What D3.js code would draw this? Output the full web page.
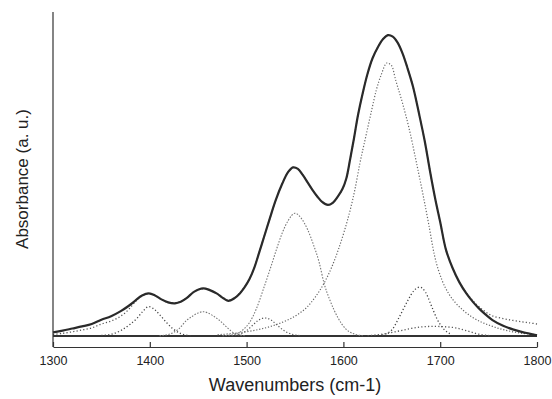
<!DOCTYPE html>
<html>
<head>
<meta charset="utf-8">
<script src="https://cdn.jsdelivr.net/npm/d3@7"></script>
<style>
  html, body { margin: 0; padding: 0; background: #fff; }
  svg { display: block; }
  text { font-family: "Liberation Sans", Arial, Helvetica, sans-serif; fill: #222; }
</style>
</head>
<body>
<svg id="chart" width="552" height="399"></svg>
<script>
// ---- Data ----
const xTicks = [1300, 1400, 1500, 1600, 1700, 1800];
const xTickLabels = ["1300", "1400", "1500", "1600", "1700", "1800"];
const xTitle = "Wavenumbers (cm-1)";
const yTitle = "Absorbance (a. u.)";

// measured spectrum (solid)
const sumWn = [1300,1310,1320,1330,1340,1350,1360,1370,1378,1385,1392,1399,1405,1412,1419,1426,1432,1438,1446,1455,1462,1469,1475,1481,1487,1493,1498,1503,1508,1512,1518,1524,1530,1537,1543,1548,1553,1558,1563,1568,1573,1578,1584,1589,1594,1599,1603,1607,1611,1615,1620,1625,1630,1636,1641,1646,1651,1656,1661,1666,1672,1678,1684,1690,1695,1700,1706,1713,1720,1727,1734,1740,1747,1754,1765,1775,1785,1792,1800];
const sumVals = [0.012,0.018,0.025,0.032,0.04,0.054,0.066,0.083,0.1,0.118,0.135,0.142,0.136,0.122,0.112,0.109,0.114,0.126,0.148,0.159,0.153,0.142,0.128,0.117,0.125,0.142,0.163,0.19,0.228,0.268,0.33,0.392,0.452,0.509,0.547,0.562,0.557,0.537,0.512,0.487,0.465,0.447,0.437,0.444,0.464,0.49,0.525,0.59,0.66,0.735,0.81,0.875,0.925,0.965,0.99,1.003,0.998,0.978,0.943,0.895,0.83,0.743,0.65,0.54,0.455,0.38,0.287,0.225,0.178,0.142,0.113,0.092,0.071,0.053,0.034,0.022,0.013,0.008,0.002];

// fitted envelope (dotted, same wavenumber grid)
const fitVals = [0.005,0.009,0.014,0.02,0.027,0.04,0.05,0.066,0.088,0.114,0.134,0.142,0.136,0.122,0.112,0.11,0.115,0.127,0.148,0.158,0.153,0.142,0.129,0.12,0.127,0.143,0.164,0.19,0.228,0.268,0.33,0.392,0.452,0.509,0.547,0.562,0.557,0.537,0.512,0.487,0.465,0.447,0.437,0.444,0.464,0.49,0.525,0.59,0.66,0.735,0.81,0.875,0.925,0.965,0.99,1.003,0.998,0.978,0.943,0.895,0.83,0.743,0.65,0.54,0.455,0.38,0.287,0.225,0.178,0.144,0.117,0.098,0.08,0.067,0.058,0.052,0.047,0.044,0.04];

// component bands (dotted)
const band1400Wn = [1350,1360,1370,1380,1387,1393,1399,1405,1411,1417,1424,1432,1442];
const band1400 = [0.002,0.006,0.018,0.04,0.06,0.083,0.098,0.088,0.068,0.046,0.024,0.008,0.001];

const band1455Wn = [1410,1420,1430,1438,1445,1450,1455,1460,1466,1472,1480,1488,1498];
const band1455 = [0.001,0.006,0.024,0.052,0.068,0.077,0.081,0.077,0.066,0.052,0.028,0.008,0.001];

const band1520Wn = [1485,1493,1500,1506,1512,1519,1526,1532,1540,1548,1556];
const band1520 = [0.001,0.006,0.018,0.035,0.052,0.06,0.052,0.035,0.015,0.005,0.001];

const band1550Wn = [1475,1487,1496,1503,1510,1517,1525,1531,1537,1543,1550,1557,1563,1569,1575,1580,1586,1594,1602,1610,1620];
const band1550 = [0.001,0.005,0.02,0.045,0.09,0.153,0.23,0.29,0.345,0.385,0.409,0.39,0.355,0.305,0.245,0.176,0.12,0.063,0.025,0.008,0.001];

const band1645Wn = [1470,1490,1510,1525,1540,1552,1562,1571,1580,1588,1595,1601,1607,1612,1617,1623,1629,1634,1639,1645,1650,1654,1661,1668,1675,1682,1688,1694,1702,1709,1716,1724,1733,1754,1775,1800];
const band1645 = [0.004,0.01,0.02,0.032,0.05,0.07,0.095,0.13,0.176,0.23,0.29,0.35,0.42,0.49,0.575,0.663,0.75,0.82,0.87,0.91,0.9,0.853,0.777,0.69,0.585,0.475,0.375,0.27,0.185,0.14,0.11,0.085,0.063,0.032,0.014,0.004];

const band1680Wn = [1640,1650,1658,1666,1673,1679,1685,1691,1697,1704,1712];
const band1680 = [0.003,0.02,0.065,0.115,0.152,0.163,0.145,0.1,0.055,0.022,0.005];

const band1695Wn = [1625,1640,1655,1668,1680,1692,1704,1716,1728,1740,1752];
const band1695 = [0.001,0.006,0.015,0.024,0.03,0.032,0.031,0.027,0.017,0.006,0.001];

const baseWn = [1300, 1800];
const baseVals = [0, 0];

// ---- Drawing ----
const svg = d3.select("#chart");
const x = d3.scaleLinear().domain([1300, 1800]).range([53, 537]);
const y = d3.scaleLinear().domain([0, 1]).range([336, 36]);
const axisY = 347;   // position of the x-axis line
const axisTop = 12;  // top of the y-axis line

const toPts = (wn, vals) => wn.map((w, i) => [w, vals[i]]);
const line = d3.line().x(d => x(d[0])).y(d => y(d[1])).curve(d3.curveMonotoneX);
const smooth = d3.line().x(d => x(d[0])).y(d => y(d[1])).curve(d3.curveCatmullRom.alpha(0.5));

// baseline
svg.append("path").attr("d", line(toPts(baseWn, baseVals)))
  .attr("fill", "none").attr("stroke", "#333").attr("stroke-width", 2);

const bands = [
  {wn: band1400Wn, v: band1400, c: "#444", dash: "1.2,2.2", w: 1.3},
  {wn: band1455Wn, v: band1455, c: "#777", dash: "1.5,1.5", w: 1.1},
  {wn: band1520Wn, v: band1520, c: "#555", dash: "1.2,2", w: 1.2},
  {wn: band1550Wn, v: band1550, c: "#777", dash: "1.5,1.5", w: 1.1},
  {wn: band1645Wn, v: band1645, c: "#666", dash: "1.2,1.8", w: 1.2},
  {wn: band1680Wn, v: band1680, c: "#444", dash: "1.2,2.2", w: 1.3},
  {wn: band1695Wn, v: band1695, c: "#555", dash: "1.2,2.2", w: 1.3}
];
bands.forEach(b => {
  svg.append("path").attr("d", line(toPts(b.wn, b.v)))
    .attr("fill", "none").attr("stroke", b.c)
    .attr("stroke-width", b.w).attr("stroke-dasharray", b.dash);
});

// fitted envelope
svg.append("path").attr("d", smooth(toPts(sumWn, fitVals)))
  .attr("fill", "none").attr("stroke", "#555")
  .attr("stroke-width", 1.3).attr("stroke-dasharray", "1.2,2.2");

// measured spectrum
svg.append("path").attr("d", smooth(toPts(sumWn, sumVals)))
  .attr("fill", "none").attr("stroke", "#2a2a2a")
  .attr("stroke-width", 2.2).attr("stroke-linejoin", "round");

// x axis (ticks pointing inward/up)
const xAxis = d3.axisBottom(x).tickValues(xTicks)
  .tickFormat((d, i) => xTickLabels[i]).tickSize(-5).tickPadding(9).tickSizeOuter(0);
const gx = svg.append("g").attr("transform", `translate(0,${axisY})`).call(xAxis);
gx.select(".domain").attr("stroke", "#333").attr("stroke-width", 1.2);
gx.selectAll(".tick line").attr("stroke", "#333").attr("stroke-width", 1.2);
gx.selectAll(".tick text").attr("font-size", 12.5).attr("fill", "#222")
  .style("font-family", "'Liberation Sans', Arial, sans-serif");

// y axis line (no ticks)
svg.append("line").attr("x1", x(1300)).attr("x2", x(1300))
  .attr("y1", axisTop).attr("y2", axisY)
  .attr("stroke", "#333").attr("stroke-width", 1.2);

// titles
svg.append("text").attr("x", 295).attr("y", 391)
  .attr("text-anchor", "middle").attr("font-size", 18).text(xTitle);
svg.append("text").attr("transform", "translate(28,179) rotate(-90)")
  .attr("text-anchor", "middle").attr("font-size", 17).text(yTitle);
</script>
</body>
</html>
